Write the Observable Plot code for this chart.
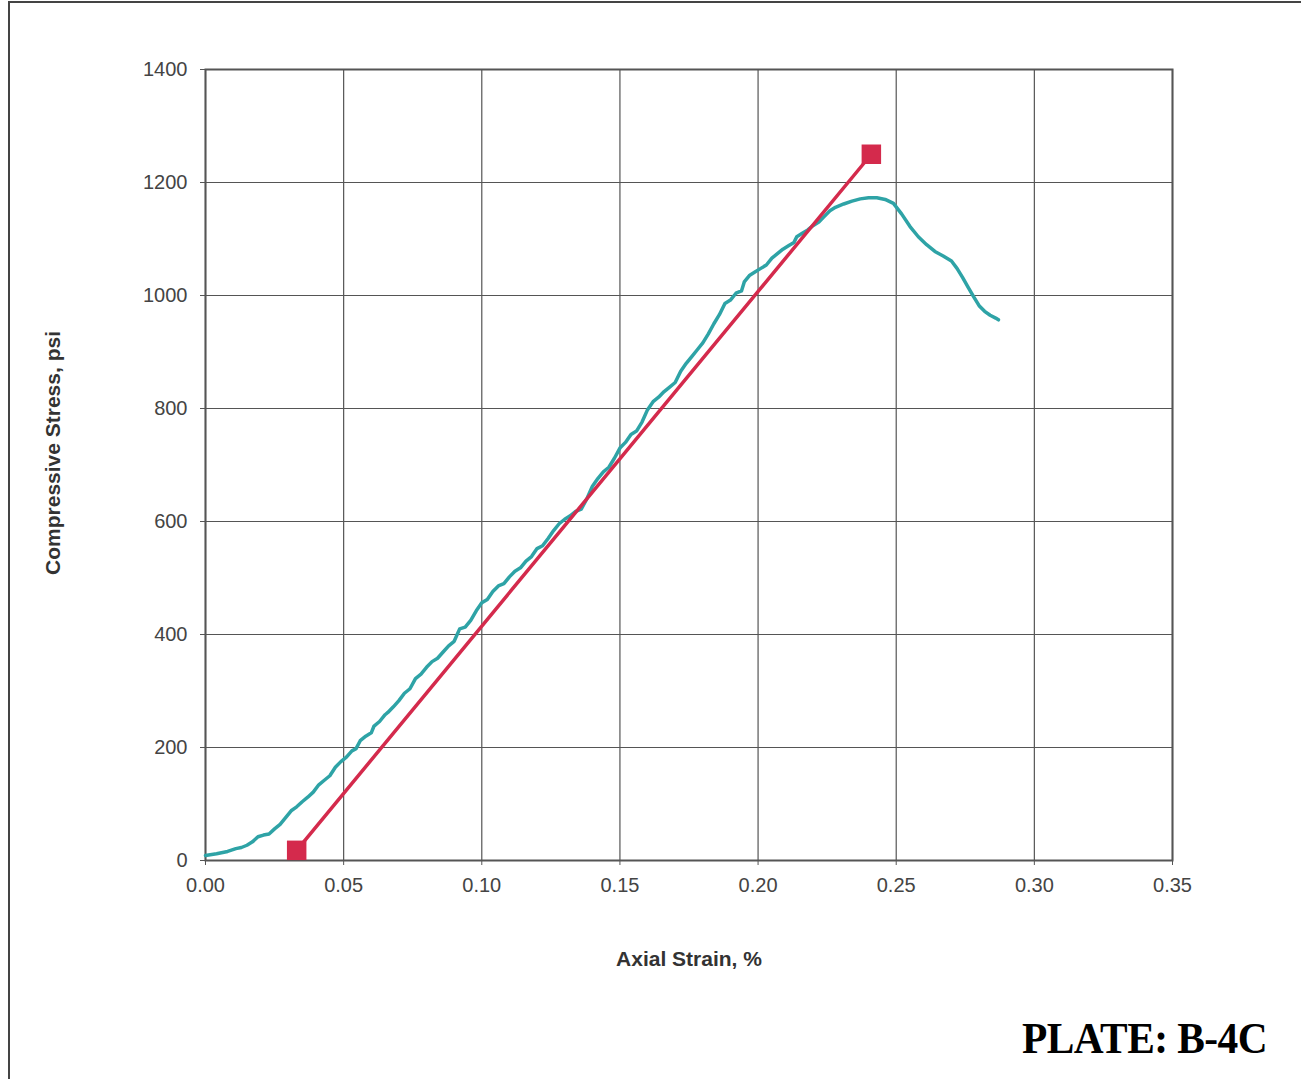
<!DOCTYPE html>
<html>
<head>
<meta charset="utf-8">
<script src="https://cdn.jsdelivr.net/npm/d3@7"></script>
<script src="https://cdn.jsdelivr.net/npm/@observablehq/plot@0.6"></script>
<style>
  html, body { margin: 0; padding: 0; background: #fff; }
  #page { position: relative; width: 1301px; height: 1079px; overflow: hidden; background: #fff; }
  #frame { position: absolute; left: 8px; top: 1px; width: 1300px; height: 1090px; border-left: 2px solid #444; border-top: 2px solid #444; }
  #chart { position: absolute; left: 0; top: 0; }
  #plate { position: absolute; left: 1022px; top: 1012px; font-family: "Liberation Serif", "Times New Roman", serif; font-weight: bold; font-size: 45px; line-height: normal; color: #000; letter-spacing: -0.6px; transform: scaleX(0.92); transform-origin: left top; white-space: nowrap; }
</style>
</head>
<body>
<div id="page">
  <div id="frame"></div>
  <div id="chart"></div>
  <div id="plate">PLATE: B-4C</div>
</div>
<script>
// Test curve (axial strain %, compressive stress psi)
const strain = [0.000,0.004,0.008,0.011,0.013,0.015,0.017,0.019,0.021,0.023,0.025,0.027,0.029,0.031,0.033,0.035,0.037,0.039,0.041,0.043,0.045,0.047,0.049,0.051,0.053,0.0545,0.056,0.058,0.060,0.061,0.063,0.065,0.066,0.068,0.070,0.072,0.074,0.076,0.078,0.080,0.082,0.084,0.086,0.088,0.090,0.092,0.094,0.096,0.098,0.100,0.102,0.104,0.106,0.108,0.110,0.112,0.114,0.116,0.118,0.120,0.122,0.124,0.126,0.128,0.130,0.132,0.134,0.136,0.138,0.140,0.142,0.144,0.146,0.148,0.150,0.152,0.154,0.156,0.158,0.160,0.162,0.164,0.166,0.168,0.170,0.172,0.174,0.176,0.178,0.180,0.182,0.184,0.186,0.188,0.190,0.192,0.194,0.195,0.197,0.199,0.201,0.203,0.205,0.207,0.209,0.211,0.213,0.214,0.216,0.218,0.220,0.222,0.224,0.226,0.228,0.231,0.234,0.237,0.240,0.243,0.246,0.249,0.252,0.255,0.258,0.261,0.264,0.267,0.270,0.272,0.274,0.276,0.278,0.280,0.282,0.284,0.286,0.287];
const stress = [9,12,16,21,23,27,33,42,45,47,56,64,76,88,95,104,112,121,134,142,150,165,175,183,194,198,212,220,226,238,246,258,262,272,283,296,304,322,330,342,352,358,369,380,388,410,413,425,442,456,462,476,486,490,502,512,518,530,538,552,557,570,584,596,604,610,618,622,640,662,676,688,696,712,730,740,754,760,776,798,812,820,830,838,846,866,880,892,904,916,932,950,966,986,992,1004,1008,1024,1036,1042,1048,1054,1066,1074,1082,1088,1094,1104,1110,1116,1124,1130,1140,1150,1156,1162,1167,1171,1173,1173,1170,1163,1144,1122,1104,1090,1078,1070,1061,1048,1032,1015,998,982,972,965,960,957];

// Modulus line endpoints
const lineStrain = [0.033, 0.241];
const lineStress = [18, 1250];

// Tick labels
const xTicks = [0, 0.05, 0.10, 0.15, 0.20, 0.25, 0.30, 0.35];
const yTicks = [0, 200, 400, 600, 800, 1000, 1200, 1400];

const curve = strain.map((s, i) => ({x: s, y: stress[i]}));
const modLine = lineStrain.map((s, i) => ({x: s, y: lineStress[i]}));

const plot = Plot.plot({
  width: 1301,
  height: 1000,
  marginLeft: 205,
  marginRight: 129,
  marginTop: 69,
  marginBottom: 140,
  style: {fontFamily: "'Liberation Sans', Arial, sans-serif", fontSize: "20px", color: "#444", background: "transparent"},
  x: {domain: [0, 0.35]},
  y: {domain: [0, 1400]},
  marks: [
    Plot.gridX(xTicks, {stroke: "#555", strokeOpacity: 1, strokeWidth: 1.2}),
    Plot.gridY(yTicks, {stroke: "#555", strokeOpacity: 1, strokeWidth: 1.2}),
    Plot.frame({stroke: "#555", strokeWidth: 2}),
    Plot.axisX(xTicks, {tickSize: 5, tickPadding: 12, tickFormat: d => d.toFixed(2), stroke: "#555",
      label: "Axial Strain, %", labelAnchor: "center", labelArrow: "none", labelOffset: 105,
      fontSize: 20}),
    Plot.axisY(yTicks, {tickSize: 5, tickPadding: 13, tickFormat: d => String(d), stroke: "#555",
      label: "Compressive Stress, psi", labelAnchor: "center", labelArrow: "none", labelOffset: 160,
      fontSize: 20}),
    Plot.line(curve, {x: "x", y: "y", stroke: "#2ea3a6", strokeWidth: 3.5, curve: "linear"}),
    Plot.line(modLine, {x: "x", y: "y", stroke: "#d42a4c", strokeWidth: 3.5}),
    Plot.dot(modLine, {x: "x", y: "y", symbol: "square", r: 11, fill: "#d42a4c", stroke: "none"})
  ]
});

const svg = d3.select(plot);
svg.selectAll("[aria-label='x-axis tick label'] text, [aria-label='y-axis tick label'] text")
  .style("font-size", "20px").style("fill", "#444");
svg.selectAll("[aria-label='x-axis label'] text, [aria-label='y-axis label'] text")
  .style("font-weight", "bold").style("font-size", "21px").style("fill", "#333");
svg.selectAll("[aria-label='y-axis label'] text").attr("dx", 12);
document.getElementById("chart").appendChild(plot);
</script>
</body>
</html>
